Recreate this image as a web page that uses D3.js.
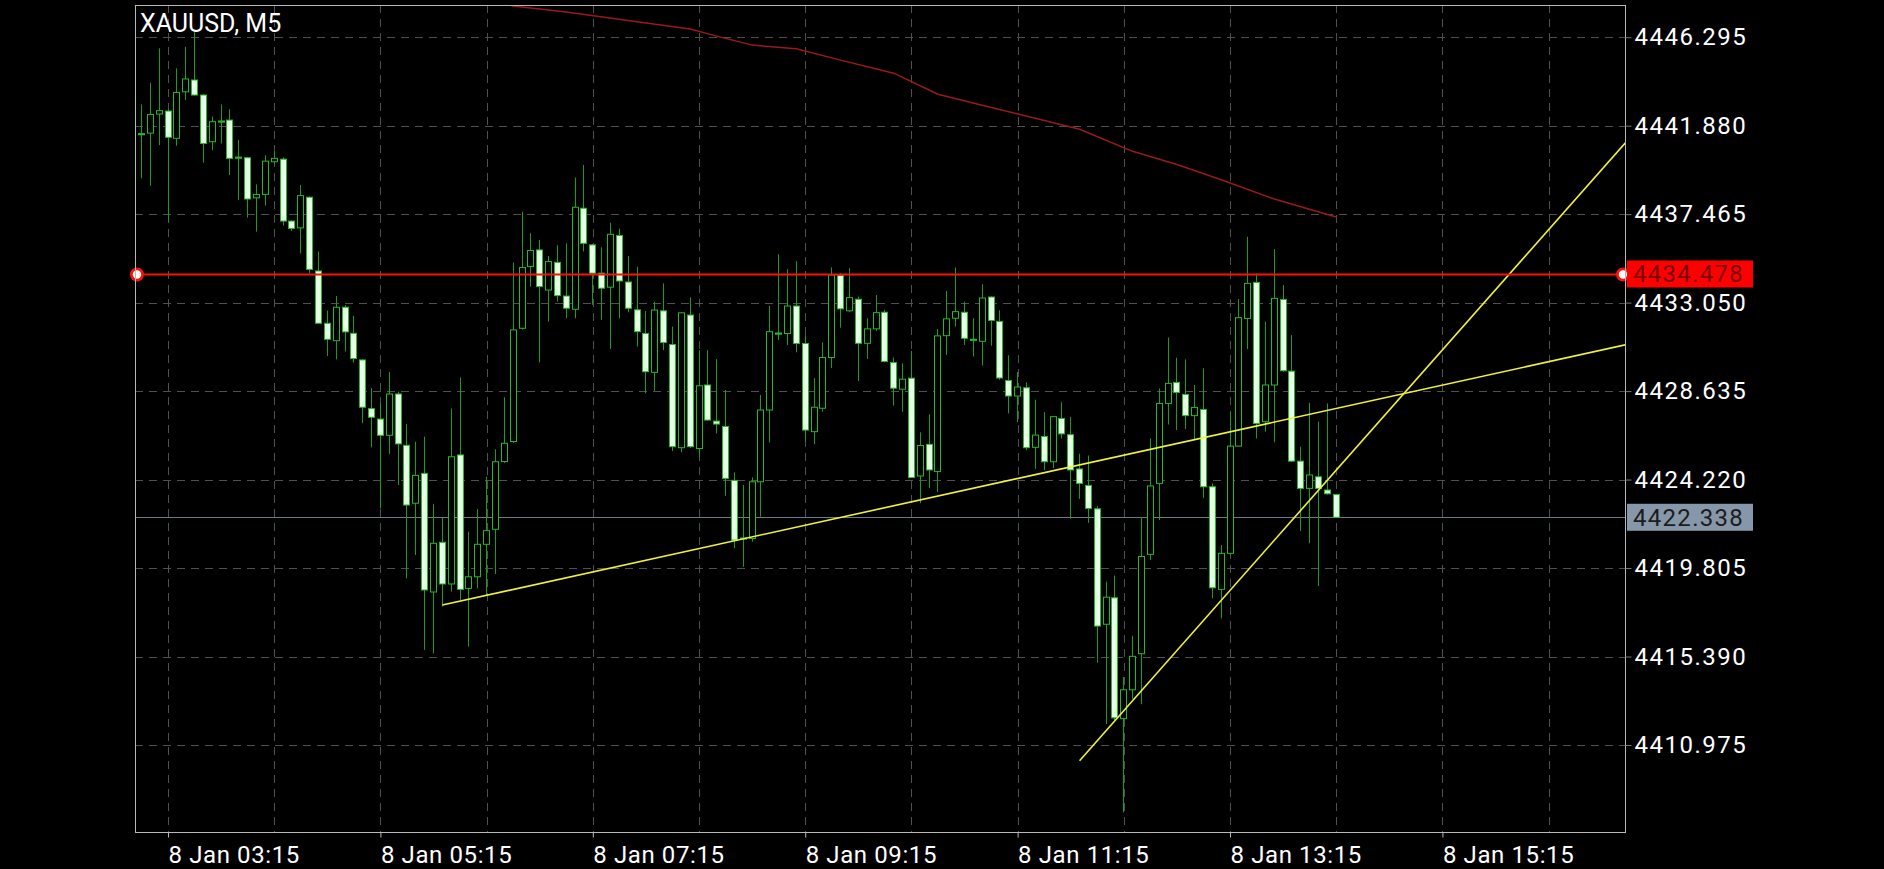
<!DOCTYPE html>
<html><head><meta charset="utf-8">
<script src="https://cdn.jsdelivr.net/npm/d3@7"></script>
<style>html,body{margin:0;padding:0;background:#000;overflow:hidden}</style>
</head><body>
<svg id="chart" width="1884" height="869"></svg>
<script>
// ---------- DATA ----------
const chartTitle = "XAUUSD, M5";
const firstBar = [2026, 0, 8, 3, 0]; // 8 Jan 03:00, M5 bars
const barMinutes = 5;
const opens = [4441.45,4441.51,4442.46,4442.61,4441.25,4443.57,4444.16,4443.41,4441.08,4442.08,
4442.16,4440.28,4440.28,4438.28,4438.45,4440.08,4440.21,4437.12,4436.78,4438.31,
4434.63,4432.02,4431.15,4432.82,4431.52,4430.19,4427.76,4427.24,4426.43,4428.49,
4425.93,4423.04,4424.53,4418.61,4421.09,4419.01,4425.45,4418.79,4419.37,4420.99,
4421.74,4425.12,4426.12,4431.77,4434.85,4435.68,4433.68,4435.06,4433.38,4432.72,
4437.76,4435.93,4434.52,4433.82,4436.40,4434.08,4432.69,4431.51,4429.57,4432.64,
4430.96,4425.81,4432.43,4425.77,4428.94,4427.14,4426.87,4424.18,4421.26,4421.28,
4424.11,4427.69,4431.50,4431.51,4432.88,4431.01,4426.61,4427.78,4430.31,4434.40,
4432.64,4433.22,4431.02,4431.74,4432.57,4430.06,4428.73,4429.28,4424.40,4425.98,
4424.62,4431.40,4432.27,4432.57,4431.19,4431.12,4433.33,4432.11,4429.16,4428.39,
4428.80,4425.83,4426.37,4425.11,4427.27,4426.46,4424.75,4423.93,4422.76,4417.00,
4418.32,4412.29,4413.73,4415.53,4420.49,4424.03,4428.02,4429.07,4428.47,4427.41,
4427.72,4423.86,4418.74,4420.54,4425.89,4432.26,4434.06,4427.11,4428.94,4433.21,
4429.63,4425.14,4423.78,4424.36,4423.70,4423.48];
const highs = [4442.94,4444.02,4445.74,4442.70,4444.74,4445.82,4446.55,4443.45,4442.33,4442.94,
4442.69,4441.16,4440.30,4438.95,4440.41,4440.58,4440.30,4437.15,4438.92,4438.35,
4435.60,4432.65,4433.38,4432.93,4432.40,4430.22,4428.78,4428.03,4429.59,4428.61,
4427.00,4426.11,4426.36,4422.99,4422.34,4427.77,4429.32,4421.62,4422.75,4424.36,
4425.73,4428.33,4435.05,4437.59,4436.51,4436.18,4435.38,4435.91,4436.01,4439.29,
4439.92,4435.98,4435.81,4437.04,4436.74,4435.38,4434.85,4432.63,4433.09,4434.01,
4431.85,4432.56,4433.31,4430.68,4430.68,4430.23,4428.69,4424.58,4423.95,4424.33,
4428.44,4432.88,4435.47,4434.72,4435.12,4431.43,4429.28,4431.07,4434.81,4434.52,
4434.76,4433.35,4432.27,4433.43,4432.69,4430.31,4430.02,4430.64,4426.58,4427.48,
4431.74,4433.63,4434.80,4433.10,4432.27,4433.96,4433.36,4432.67,4430.42,4429.59,
4429.07,4428.21,4427.58,4427.40,4428.08,4427.34,4425.51,4425.42,4422.90,4419.13,
4419.43,4414.36,4416.43,4422.36,4426.27,4428.77,4431.31,4430.30,4430.22,4428.94,
4429.77,4424.03,4420.95,4427.61,4433.23,4436.34,4434.51,4432.10,4435.72,4433.93,
4431.43,4425.86,4428.05,4427.11,4428.02,4423.50];
const lows = [4439.25,4438.88,4440.91,4437.09,4440.88,4443.16,4443.38,4440.03,4440.66,4440.99,
4439.42,4438.17,4437.29,4436.59,4437.89,4439.95,4436.89,4436.62,4435.51,4434.51,
4432.00,4430.39,4430.22,4430.61,4430.06,4427.03,4425.83,4422.79,4425.50,4423.95,
4419.29,4420.46,4415.72,4415.55,4417.88,4418.63,4418.21,4415.88,4418.79,4418.46,
4419.51,4425.05,4426.05,4431.70,4433.85,4430.07,4432.10,4433.10,4432.27,4432.27,
4435.60,4432.94,4432.19,4430.74,4432.27,4432.57,4430.86,4428.52,4428.65,4430.68,
4425.64,4425.58,4425.80,4425.31,4427.15,4426.52,4423.41,4420.79,4419.87,4421.12,
4422.37,4426.07,4431.18,4430.93,4430.57,4426.11,4425.98,4427.61,4429.78,4431.80,
4432.57,4429.14,4430.24,4431.64,4430.07,4427.91,4427.61,4424.30,4423.04,4423.79,
4423.59,4430.44,4431.85,4430.94,4430.36,4429.91,4430.90,4429.20,4427.52,4427.09,
4425.69,4424.75,4424.70,4424.79,4426.27,4422.27,4423.26,4422.06,4415.08,4412.02,
4412.20,4407.62,4413.28,4413.01,4420.20,4422.20,4426.97,4426.69,4426.74,4426.22,
4423.31,4418.29,4417.29,4420.45,4425.86,4430.73,4426.27,4426.61,4426.08,4429.60,
4425.10,4421.65,4421.04,4418.91,4423.48,4422.30];
const closes = [4441.47,4442.44,4442.63,4441.30,4443.54,4444.21,4443.41,4440.99,4442.08,4442.10,
4440.25,4440.30,4438.22,4438.45,4440.11,4440.25,4437.12,4436.75,4438.39,4434.71,
4432.02,4431.22,4432.82,4431.59,4430.26,4427.83,4427.33,4426.43,4428.49,4426.00,
4422.95,4424.43,4418.71,4421.04,4419.01,4425.36,4418.74,4419.37,4420.99,4421.67,
4425.11,4426.03,4431.69,4434.80,4435.65,4433.85,4435.10,4433.40,4432.77,4437.81,
4436.01,4434.52,4433.77,4436.46,4434.13,4432.77,4431.60,4429.60,4432.68,4431.06,
4425.86,4432.54,4425.86,4428.90,4427.19,4426.99,4424.28,4421.20,4421.30,4424.11,
4427.69,4431.60,4431.52,4432.88,4431.01,4426.69,4427.83,4430.31,4434.43,4432.74,
4433.30,4431.02,4431.74,4432.55,4430.11,4428.78,4429.23,4424.32,4425.92,4424.70,
4431.39,4432.24,4432.60,4431.27,4431.21,4433.28,4432.16,4429.29,4428.39,4428.84,
4425.81,4426.44,4425.11,4427.36,4426.50,4424.70,4424.03,4422.78,4416.91,4418.35,
4412.33,4413.73,4415.40,4420.38,4423.90,4428.02,4429.02,4428.57,4427.41,4427.82,
4423.86,4418.82,4420.54,4425.89,4432.30,4434.01,4427.02,4428.94,4433.26,4429.65,
4425.14,4423.78,4424.45,4423.78,4423.51,4422.338];
// moving average read at bar numbers
const maBars   = [38, 42, 48, 56, 62, 65, 69, 74, 79, 85, 90, 95, 101, 106, 112, 117, 122, 128, 135];
const maValues = [4448.30,4447.85,4447.55,4447.07,4446.70,4446.35,4445.90,4445.72,4445.15,4444.50,4443.45,4442.90,4442.25,4441.70,4440.60,4439.94,4439.18,4438.22,4437.32];
const priceTicks = [4446.295, 4441.880, 4437.465, 4433.050, 4428.635, 4424.220, 4419.805, 4415.390, 4410.975];
const timeLabelBars = [3, 27, 51, 75, 99, 123, 147];
const levelPrice = 4434.478;
const lastPrice = 4422.338;
const trend1Bars = [34, 100], trend1Prices = [4417.96, 4424.37];
const trend2Bars = [106, 110], trend2Prices = [4410.19, 4412.19];

// ---------- LAYOUT ----------
const W = 1884, H = 869;
const pL = 135, pR = 1625, pT = 5, pB = 832;
const base = new Date(...firstBar).getTime();
const tOf = k => new Date(base + k * barMinutes * 60000);
const times = opens.map((_, i) => tOf(i));

const x = d3.scaleTime()
  .domain([tOf(-0.729), tOf(167.63)])
  .range([pL, pR]);
const y = d3.scaleLinear()
  .domain([4406.633, 4447.902])
  .range([pB, pT]);

const svg = d3.select("#chart");
svg.append("rect").attr("width", W).attr("height", H).attr("fill", "#000");
const defs = svg.append("defs");
defs.append("clipPath").attr("id", "plot").append("rect")
  .attr("x", pL).attr("y", pT).attr("width", pR - pL).attr("height", pB - pT);

const FONT = "Roboto, 'Liberation Sans', Arial, sans-serif";
const crisp = v => Math.round(v) + 0.5;

// grid
const gridTimes = d3.range(3, 3 + 12 * 14, 12).map(tOf);
const g = svg.append("g").attr("clip-path", "url(#plot)");
g.selectAll(".vg").data(gridTimes).join("line")
  .attr("x1", d => crisp(x(d))).attr("x2", d => crisp(x(d)))
  .attr("y1", pT).attr("y2", pB)
  .attr("stroke", "#505050").attr("stroke-width", 1).attr("stroke-dasharray", "8,6");
g.selectAll(".hg").data(priceTicks).join("line")
  .attr("x1", pL).attr("x2", pR)
  .attr("y1", d => crisp(y(d))).attr("y2", d => crisp(y(d)))
  .attr("stroke", "#505050").attr("stroke-width", 1).attr("stroke-dasharray", "8,6");

// moving average
const maLine = d3.line().x(d => x(tOf(d[0]))).y(d => y(d[1]));
g.append("path").datum(maBars.map((b, i) => [b, maValues[i]]))
  .attr("d", maLine).attr("fill", "none").attr("stroke", "#9a1a1a").attr("stroke-width", 1.5);

// current price line
g.append("line").attr("x1", pL).attr("x2", pR)
  .attr("y1", crisp(y(lastPrice))).attr("y2", crisp(y(lastPrice)))
  .attr("stroke", "#6f7a88").attr("stroke-width", 1);

// candles
const GREEN = "#26b826", WICK = "#1c9c1c", WHITE = "#e6ffe6";
const candles = g.selectAll(".c").data(times.map((t, i) => ({t, o: opens[i], h: highs[i], l: lows[i], c: closes[i]})))
  .join("g");
candles.append("line")
  .attr("x1", d => crisp(x(d.t) - 0.5)).attr("x2", d => crisp(x(d.t) - 0.5))
  .attr("y1", d => y(d.h)).attr("y2", d => y(d.l))
  .attr("stroke", WICK).attr("stroke-width", 1);
candles.each(function(d) {
  const cx = Math.round(x(d.t) - 0.5);
  const yt = y(Math.max(d.o, d.c)), yb = y(Math.min(d.o, d.c));
  const sel = d3.select(this);
  if (yb - yt < 1.5) {
    sel.append("rect").attr("x", cx - 3).attr("y", (yt + yb) / 2 - 1).attr("width", 7).attr("height", 2.2)
      .attr("fill", GREEN);
  } else {
    const bear = d.c < d.o;
    sel.append("rect").attr("x", cx - 2.5).attr("y", yt).attr("width", 6).attr("height", yb - yt)
      .attr("fill", bear ? WHITE : "#000").attr("stroke", GREEN).attr("stroke-width", 1);
  }
});

// trend lines (rays to the right edge)
function ray(bars, prices) {
  const slope = (prices[1] - prices[0]) / (bars[1] - bars[0]);
  const endBar = 170;
  return [[x(tOf(bars[0])), y(prices[0])], [x(tOf(endBar)), y(prices[0] + slope * (endBar - bars[0]))]];
}
[[trend1Bars, trend1Prices], [trend2Bars, trend2Prices]].forEach(([b, p]) => {
  g.append("path").attr("d", d3.line()(ray(b, p)))
    .attr("stroke", "#f2f23a").attr("stroke-width", 1.6).attr("fill", "none");
});

// red horizontal level
const ly = crisp(y(levelPrice));
svg.append("line").attr("x1", pL).attr("x2", pR).attr("y1", ly).attr("y2", ly)
  .attr("stroke", "#ff1010").attr("stroke-width", 2);
[pL + 2, pR - 2].forEach(cx => {
  svg.append("circle").attr("cx", cx).attr("cy", ly).attr("r", 7).attr("fill", "#ff1010");
  svg.append("circle").attr("cx", cx).attr("cy", ly).attr("r", 4.2).attr("fill", "#fff");
});

// frame
svg.append("rect").attr("x", pL + 0.5).attr("y", pT + 0.5).attr("width", pR - pL).attr("height", pB - pT)
  .attr("fill", "none").attr("stroke", "#b8b8b8").attr("stroke-width", 1);

// price axis
const yAxis = d3.axisRight(y).tickValues(priceTicks).tickFormat(d3.format(".3f")).tickSize(6).tickPadding(3);
const ya = svg.append("g").attr("transform", `translate(${pR + 0.5},0)`).call(yAxis);
ya.select(".domain").remove();
ya.selectAll(".tick line").attr("stroke", "#777");
ya.selectAll(".tick text").attr("fill", "#fff").attr("font-family", FONT).attr("font-size", 24)
  .attr("letter-spacing", "1.5px");

// price tags
function tag(price, bg, fg) {
  const cy = y(price);
  svg.append("rect").attr("x", pR + 2).attr("y", cy - 13.5).attr("width", 126).attr("height", 27).attr("fill", bg);
  svg.append("text").attr("x", pR + 8).attr("y", cy).attr("dy", "0.35em")
    .attr("fill", fg).attr("font-family", FONT).attr("font-size", 24).attr("letter-spacing", "1.3px")
    .text(d3.format(".3f")(price));
}
tag(levelPrice, "#ff0000", "#7a0000");
tag(lastPrice, "#8797aa", "#1c1c1c");

// time axis
const xAxis = d3.axisBottom(x).tickValues(timeLabelBars.map(tOf))
  .tickFormat(d3.timeFormat("%-d %b %H:%M")).tickSize(5).tickPadding(4);
const xa = svg.append("g").attr("transform", `translate(0,${pB + 0.5})`).call(xAxis);
xa.select(".domain").remove();
xa.selectAll(".tick line").attr("stroke", "#b8b8b8");
xa.selectAll(".tick text").attr("fill", "#fff").attr("font-family", FONT).attr("font-size", 24)
  .attr("letter-spacing", "0.6px")
  .attr("text-anchor", "start").attr("x", 0).attr("dy", "0.88em");

// title
svg.append("text").attr("x", 140).attr("y", 32).attr("fill", "#fff")
  .attr("font-family", FONT).attr("font-size", 25).text(chartTitle);
</script>
</body></html>
